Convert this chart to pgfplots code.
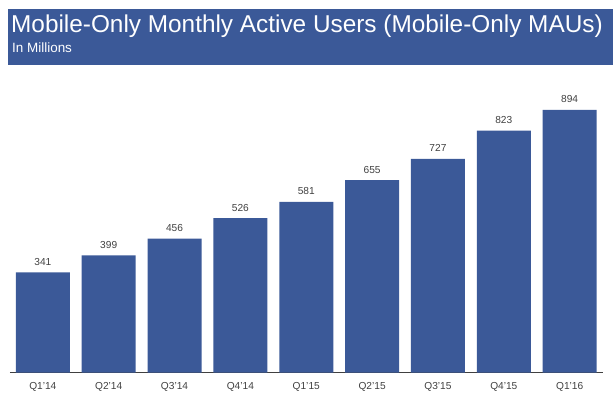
\documentclass[border=0pt]{standalone}
\usepackage{pgfplots}
\pgfplotsset{compat=1.18}
\usepackage{fontspec}
\setmainfont{Liberation Sans}
\definecolor{fbblue}{RGB}{59,89,152}
\definecolor{lblgray}{RGB}{64,64,64}
\begin{document}
\begin{tikzpicture}[x=1bp,y=1bp]
\path (0,0) rectangle (613,399);
\fill[fbblue] (8,334) rectangle (613,390);
\node[anchor=base west, text=white, font=\fontsize{24.45}{24.45}\selectfont, inner sep=0] at (11,366.6) {Mobile-Only Monthly Active Users (Mobile-Only MAUs)};
\node[anchor=base west, text=white, font=\fontsize{13.5}{13.5}\selectfont, inner sep=0] at (12,347) {In Millions};
\begin{axis}[
  at={(9.9bp,26.3bp)}, anchor=south west,
  scale only axis, width=592.7bp, height=294bp,
  xmin=-0.5, xmax=8.5, ymin=0, ymax=1000,
  axis x line=bottom, axis y line=none,
  axis line style={-, draw=black!75, line width=0.8pt},
  xtick=data, xticklabels={Q1'14,Q2'14,Q3'14,Q4'14,Q1'15,Q2'15,Q3'15,Q4'15,Q1'16},
  major tick length=0pt,
  xticklabel style={font=\fontsize{10.2}{10.2}\selectfont, text=lblgray, anchor=base, inner sep=0pt, yshift=-16.3bp},
  ybar, bar width=54bp,
  nodes near coords,
  /pgf/number format/assume math mode=true,
  nodes near coords style={font=\fontsize{10.2}{10.2}\selectfont, text=lblgray, anchor=base, inner sep=0pt, yshift=7bp},
  clip=false,
]
\addplot[fill=fbblue, draw=none] coordinates {(0,341) (1,399) (2,456) (3,526) (4,581) (5,655) (6,727) (7,823) (8,894)};
\end{axis}
\end{tikzpicture}
\end{document}
